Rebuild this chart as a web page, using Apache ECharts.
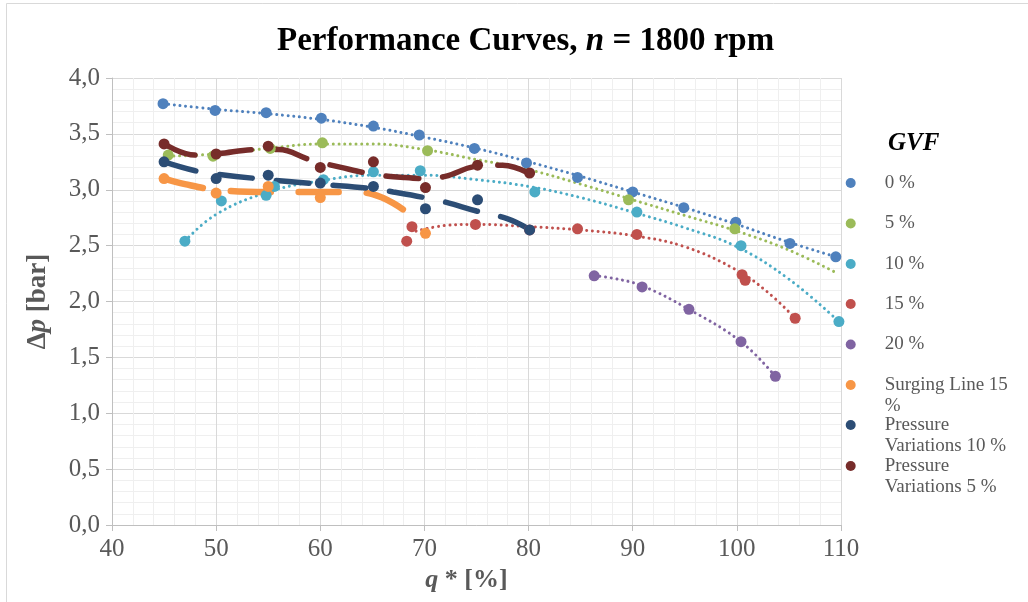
<!DOCTYPE html>
<html>
<head>
<meta charset="utf-8">
<script src="https://cdn.jsdelivr.net/npm/echarts@6/dist/echarts.min.js"></script>
<style>
  html, body { margin: 0; padding: 0; background: #ffffff; }
  #chart { width: 1028px; height: 602px; }
</style>
</head>
<body>
<div id="chart"></div>
<script>
// Measured points (q* in %, Δp in bar) for each gas volume fraction
const q0 = [44.9, 49.9, 54.8, 60.1, 65.1, 69.5, 74.8, 79.8, 84.7, 90.0, 94.9, 99.9, 105.1, 109.5];
const p0 = [3.77, 3.71, 3.69, 3.64, 3.57, 3.49, 3.37, 3.24, 3.11, 2.98, 2.84, 2.71, 2.52, 2.40];
const q5 = [45.4, 49.7, 55.2, 60.2, 70.3, 89.6, 99.8];
const p5 = [3.31, 3.30, 3.37, 3.42, 3.35, 2.91, 2.65];
const q10 = [47.0, 50.5, 54.8, 55.6, 60.3, 65.1, 69.6, 80.6, 90.4, 100.4, 109.8];
const p10 = [2.54, 2.90, 2.95, 3.03, 3.09, 3.16, 3.17, 2.98, 2.80, 2.50, 1.82];
const q15 = [68.3, 68.8, 74.9, 80.1, 84.7, 90.4, 100.5, 100.8, 105.6];
const p15 = [2.54, 2.67, 2.69, 2.64, 2.65, 2.60, 2.24, 2.19, 1.85];
const q20 = [86.3, 90.9, 95.4, 100.4, 103.7];
const p20 = [2.23, 2.13, 1.93, 1.64, 1.33];
const qSurge = [45.0, 50.0, 55.0, 60.0, 70.1];
const pSurge = [3.10, 2.97, 3.03, 2.93, 2.61];
const qVar10 = [45.0, 50.0, 55.0, 60.0, 65.1, 70.1, 75.1, 80.1];
const pVar10 = [3.25, 3.10, 3.13, 3.06, 3.03, 2.83, 2.91, 2.64];
const qVar5 = [45.0, 50.0, 55.0, 60.0, 65.1, 70.1, 75.1, 80.1];
const pVar5 = [3.41, 3.32, 3.39, 3.20, 3.25, 3.02, 3.22, 3.15];

// Fitted trend curves, sampled along each curve
const t0q = [44.9, 50, 55, 60, 65, 70, 75, 80, 85, 90, 95, 100, 105, 109.5];
const t0p = [3.77, 3.72, 3.68, 3.63, 3.56, 3.47, 3.37, 3.25, 3.12, 2.98, 2.84, 2.69, 2.53, 2.40];
const t5q = [45.4, 50, 55, 60, 65, 70, 75, 80, 85, 90, 95, 100, 105, 109.7];
const t5p = [3.30, 3.32, 3.37, 3.41, 3.41, 3.36, 3.27, 3.18, 3.05, 2.91, 2.77, 2.63, 2.46, 2.25];
const t10q = [47.0, 50, 55, 60, 65, 70, 75, 80, 85, 90, 95, 100, 105, 109.8];
const t10p = [2.54, 2.78, 2.98, 3.08, 3.13, 3.13, 3.09, 3.03, 2.93, 2.80, 2.66, 2.49, 2.20, 1.82];
const t15q = [69.2, 72, 75, 80, 85, 90, 95, 100, 103, 105.6];
const t15p = [2.63, 2.68, 2.69, 2.67, 2.64, 2.59, 2.49, 2.28, 2.08, 1.85];
const t20q = [86.3, 88, 90.9, 95.4, 100.4, 103.7];
const t20p = [2.23, 2.21, 2.14, 1.93, 1.64, 1.33];
const tSurgeQ = [45, 47, 50, 55, 60, 63, 65, 67, 68.7];
const tSurgeP = [3.10, 3.05, 3.00, 2.98, 2.98, 2.98, 2.96, 2.88, 2.77];
const tVar10Q = [45, 48, 50, 55, 60, 65, 67, 70, 72, 75, 78, 80];
const tVar10P = [3.25, 3.17, 3.14, 3.09, 3.05, 3.01, 2.98, 2.93, 2.89, 2.81, 2.74, 2.65];
const tVar5Q = [45, 48, 50, 54, 56, 59, 62, 65, 68, 70, 72, 75, 77.5, 80];
const tVar5P = [3.41, 3.31, 3.32, 3.36, 3.36, 3.27, 3.20, 3.14, 3.11, 3.10, 3.12, 3.21, 3.22, 3.15];

// Axis ticks
const xTicks = { min: 40, max: 110, step: 10 };
const yTicks = { min: 0, max: 4, step: 0.5 };

const FONT = '"Liberation Serif", "Times New Roman", serif';
const GREY = '#595959';

const pairs = (xs, ys) => xs.map((x, i) => [x, ys[i]]);

const groups = [
  { name: '0 %',  label: '0 %',  color: '#4f81bd', q: q0, p: p0, tq: t0q, tp: t0p, style: 'dot' },
  { name: '5 %',  label: '5 %',  color: '#9bbb59', q: q5, p: p5, tq: t5q, tp: t5p, style: 'dot' },
  { name: '10 %', label: '10 %', color: '#4bacc6', q: q10, p: p10, tq: t10q, tp: t10p, style: 'dot' },
  { name: '15 %', label: '15 %', color: '#c0504d', q: q15, p: p15, tq: t15q, tp: t15p, style: 'dot' },
  { name: '20 %', label: '20 %', color: '#8064a2', q: q20, p: p20, tq: t20q, tp: t20p, style: 'dot' },
  { name: 'Surging Line 15 %', label: 'Surging Line 15\n%', color: '#f79646',
    q: qSurge, p: pSurge, tq: tSurgeQ, tp: tSurgeP, style: 'dashWide' },
  { name: 'Pressure Variations 10 %', label: 'Pressure\nVariations 10 %', color: '#2c4d75',
    q: qVar10, p: pVar10, tq: tVar10Q, tp: tVar10P, style: 'dash' },
  { name: 'Pressure Variations 5 %', label: 'Pressure\nVariations 5 %', color: '#772c2a',
    q: qVar5, p: pVar5, tq: tVar5Q, tp: tVar5P, style: 'dash' }
];

const lineStyles = {
  dot: { width: 3, type: [0.01, 5.7], cap: 'round' },
  dash: { width: 5.5, type: [33, 24], cap: 'round' },
  dashWide: { width: 6.5, type: [40, 28], cap: 'round' }
};

const series = [];
groups.forEach(g => {
  series.push({
    name: g.name + ' trend',
    type: 'line',
    data: pairs(g.tq, g.tp),
    showSymbol: false,
    smooth: 0.4,
    silent: true,
    lineStyle: Object.assign({ color: g.color }, lineStyles[g.style]),
    z: 2
  });
  series.push({
    name: g.name,
    type: 'scatter',
    data: pairs(g.q, g.p),
    symbol: 'circle',
    symbolSize: 11,
    itemStyle: { color: g.color, opacity: 1 },
    z: 3
  });
});

// Legend: one component per entry so the markers stay evenly spaced.
// Wrapped labels get an empty leading line so the marker sits beside the first line.
const LH = 21.5;
const legendY = [183, 223.5, 264, 304, 344.5, 385, 425, 466];
const legends = groups.map((g, i) => {
  const lines = g.label.split('\n');
  const n = lines.length;
  const shown = n > 1 ? '\n'.repeat(n - 1) + g.label : g.label;
  const total = 2 * n - 1;
  return {
    data: [{ name: g.name, icon: 'circle' }],
    left: 845.7,
    top: legendY[i] - total * LH / 2,
    orient: 'vertical',
    padding: 0,
    itemWidth: 10,
    itemHeight: 10,
    itemGap: 0,
    selectedMode: false,
    formatter: () => shown,
    textStyle: {
      fontFamily: FONT, fontSize: 19, lineHeight: LH, color: GREY,
      padding: [0, 0, 0, 24]
    }
  };
});

const chart = echarts.init(document.getElementById('chart'), null, { renderer: 'canvas' });
chart.setOption({
  backgroundColor: '#ffffff',
  animation: false,
  title: [
    {
      text: '{a|Performance Curves, }{b|n}{a| = 1800 rpm}',
      left: 277,
      top: 25,
      padding: 0,
      textStyle: {
        rich: {
          a: { fontFamily: FONT, fontSize: 33, fontWeight: 'bold', color: '#000000' },
          b: { fontFamily: FONT, fontSize: 33, fontWeight: 'bold', fontStyle: 'italic', color: '#000000' }
        }
      }
    },
    {
      text: 'GVF',
      left: 888,
      top: 131,
      padding: 0,
      textStyle: { fontFamily: FONT, fontSize: 25, fontWeight: 'bold', fontStyle: 'italic', color: '#000000' }
    }
  ],
  legend: legends,
  graphic: [{
    type: 'rect',
    shape: { x: 6.5, y: 3.5, width: 1040, height: 620 },
    style: { fill: 'none', stroke: '#d9d9d9', lineWidth: 1 },
    silent: true
  }],
  grid: { left: 112, right: 187, top: 78, bottom: 77 },
  xAxis: {
    type: 'value',
    min: xTicks.min, max: xTicks.max, interval: xTicks.step,
    name: '{p|q}{d| * [%]}',
    nameLocation: 'middle',
    nameGap: 38,
    nameTextStyle: {
      padding: [0, 20, 0, 0],
      rich: {
        p: { fontFamily: FONT, fontSize: 26, fontWeight: 'bold', fontStyle: 'italic', color: GREY },
        d: { fontFamily: FONT, fontSize: 26, fontWeight: 'bold', color: GREY }
      }
    },
    axisLine: { show: true, lineStyle: { color: '#bfbfbf', width: 1 } },
    axisTick: { show: true, length: 6, lineStyle: { color: '#bfbfbf' } },
    axisLabel: { fontFamily: FONT, fontSize: 25, color: GREY, margin: 12 },
    splitLine: { show: true, lineStyle: { color: '#d9d9d9', width: 1 } },
    minorTick: { show: false, splitNumber: 5 },
    minorSplitLine: { show: true, lineStyle: { color: '#efefef', width: 1 } }
  },
  yAxis: {
    type: 'value',
    min: yTicks.min, max: yTicks.max, interval: yTicks.step,
    name: '{d|Δ}{p|p}{d| [bar]}',
    nameLocation: 'middle',
    nameGap: 60,
    nameTextStyle: {
      rich: {
        p: { fontFamily: FONT, fontSize: 27, fontWeight: 'bold', fontStyle: 'italic', color: GREY },
        d: { fontFamily: FONT, fontSize: 27, fontWeight: 'bold', color: GREY }
      }
    },
    axisLine: { show: true, lineStyle: { color: '#bfbfbf', width: 1 } },
    axisTick: { show: true, length: 6, lineStyle: { color: '#bfbfbf' } },
    axisLabel: {
      fontFamily: FONT, fontSize: 25, color: GREY, margin: 12,
      formatter: v => v.toFixed(1).replace('.', ',')
    },
    splitLine: { show: true, lineStyle: { color: '#d9d9d9', width: 1 } },
    minorTick: { show: false, splitNumber: 5 },
    minorSplitLine: { show: true, lineStyle: { color: '#efefef', width: 1 } }
  },
  series: series
});
</script>
</body>
</html>
